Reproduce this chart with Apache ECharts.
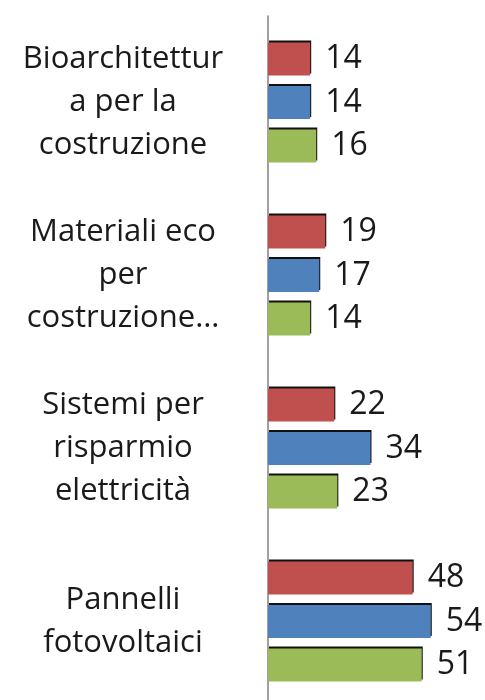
<!DOCTYPE html>
<html><head><meta charset="utf-8">
<script src="https://cdn.jsdelivr.net/npm/echarts@6/dist/echarts.min.js"></script>
<style>html,body{margin:0;padding:0;background:#fff;overflow:hidden}#c{width:485px;height:712px}</style>
</head><body><div id="c"></div>
<script>
const categories = ['Bioarchitettur\na per la\ncostruzione', 'Materiali eco\nper\ncostruzione…', 'Sistemi per\nrisparmio\nelettricità', 'Pannelli\nfotovoltaici'];
const seriesRed = [14, 19, 22, 48];
const seriesBlue = [14, 17, 34, 54];
const seriesGreen = [16, 14, 23, 51];
const colors = ['#C0504D', '#4F81BD', '#9BBB59'];

const chart = echarts.init(document.getElementById('c'));
function mk(data, color) {
  return {
    type: 'bar', data: data, barWidth: 33, barGap: '32%',
    itemStyle: { color: color, shadowColor: '#111', shadowBlur: 0, shadowOffsetY: -2, shadowOffsetX: 1 },
    label: { show: true, position: 'right', distance: 15, fontFamily: 'Open Sans', fontSize: 32, color: '#1a1a1a' },
    animation: false
  };
}
chart.setOption({
  animation: false,
  grid: { left: 268, top: 16, height: 692, width: 211, containLabel: false },
  xAxis: { type: 'value', min: 0, max: 70, show: false },
  yAxis: {
    type: 'category', data: categories, inverse: true,
    axisLine: { show: true, lineStyle: { color: '#808080', width: 1.5 } },
    axisTick: { show: false },
    axisLabel: { align: 'center', margin: 145, fontFamily: 'Open Sans', fontSize: 31, lineHeight: 43, color: '#1a1a1a' }
  },
  series: [mk(seriesRed, colors[0]), mk(seriesBlue, colors[1]), mk(seriesGreen, colors[2])]
});
</script></body></html>
